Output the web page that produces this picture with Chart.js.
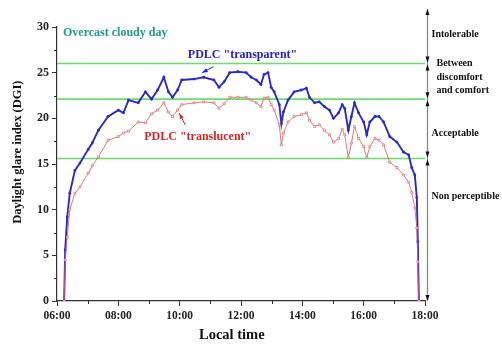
<!DOCTYPE html>
<html>
<head>
<meta charset="utf-8">
<script src="https://cdn.jsdelivr.net/npm/chart.js@4.4.1/dist/chart.umd.min.js"></script>
<style>
  html, body { margin: 0; padding: 0; background: #fff; }
  #wrap { width: 502px; height: 346px; }
</style>
</head>
<body>
<div id="wrap"><canvas id="c"></canvas></div>
<script>
// local time of each reading
var times = ['06:14','06:16','06:20','06:25','06:35','06:45','07:01','07:09','07:21','07:40',
  '08:00','08:10','08:20','08:39','08:53','09:05','09:17','09:29','09:38','09:46',
  '09:56','10:04','10:28','10:47','11:07','11:17','11:27','11:38','11:54','12:10',
  '12:20','12:30','12:39','12:45','12:53','12:59','13:05','13:15','13:19','13:23',
  '13:32','13:44','13:58','14:08','14:14','14:24','14:33','14:43','14:53','15:01',
  '15:11','15:18','15:23','15:30','15:36','15:42','15:50','16:00','16:06','16:12',
  '16:22','16:30','16:39','16:51','17:05','17:18','17:28','17:34','17:40','17:44',
  '17:46','17:48'];

// DGI, PDLC in transparent state
var transparent = [0,5.6,9.2,11.8,14.3,15.1,16.6,17.3,18.7,20.2,
  20.9,20.6,22.0,21.7,22.9,22.1,23.1,24.5,22.9,22.3,
  23.1,24.2,24.3,24.5,24.2,23.4,24.0,25.0,25.1,25.0,
  24.5,24.2,23.7,24.8,25.0,23.4,22.9,21.5,19.4,20.7,
  22.0,22.9,23.1,23.3,22.3,21.7,21.8,21.3,20.9,20.0,
  20.6,21.5,21.1,18.7,20.2,21.7,20.6,19.6,18.2,19.6,
  20.2,20.2,19.6,18.0,17.4,16.3,16.0,14.6,13.8,11.3,
  6.5,0];

// DGI, PDLC in translucent state
var translucent = [0,4.5,7.0,10.0,11.8,12.5,14.0,14.8,15.8,17.6,
  18.0,18.4,18.6,19.6,19.5,20.5,20.9,21.7,20.7,20.2,
  20.9,21.5,21.7,21.8,21.7,21.1,21.6,22.3,22.3,22.3,
  22.0,21.7,21.3,22.2,22.3,21.5,20.9,19.3,17.1,18.4,
  19.6,20.2,20.4,20.6,19.8,19.1,19.3,18.7,18.2,17.4,
  17.8,18.8,18.2,15.7,17.3,19.1,17.8,16.9,15.7,16.9,
  17.8,17.6,17.1,15.2,14.6,13.8,13.0,11.9,10.2,8.0,
  4.3,0];

// glare comfort limits (green lines)
var limits = [15.6, 22.1, 26];
var limitNames = [['Non perceptible'], ['Acceptable'], ['Between', 'discomfort', 'and comfort'], ['Intolerable']];

var xTicks = [6, 8, 10, 12, 14, 16, 18];
var yTicks = [0, 5, 10, 15, 20, 25, 30];

function toHours(t) {
  var p = t.split(':');
  return +p[0] + (+p[1]) / 60;
}

function pts(vals) {
  return vals.map(function(v, i) { return { x: toHours(times[i]), y: v }; });
}

var serif = '"Liberation Serif", "DejaVu Serif", serif';

var datasets = [];
limits.forEach(function(l) {
  datasets.push({
    data: [{ x: xTicks[0], y: l }, { x: xTicks[xTicks.length - 1], y: l }],
    borderColor: '#6ddc6d', borderWidth: 1.6, pointRadius: 0, order: 3
  });
});
datasets.push({
  label: 'PDLC "transparent"', data: pts(transparent),
  borderColor: '#2b2bc4', borderWidth: 1.9,
  pointRadius: 1.4, pointBackgroundColor: '#2b2bc4', pointBorderWidth: 0, order: 2
});
datasets.push({
  label: 'PDLC "translucent"', data: pts(translucent),
  borderColor: 'rgba(214,96,96,0.85)', borderWidth: 1,
  pointStyle: 'rect', pointRadius: 1.4, pointBackgroundColor: '#fff',
  pointBorderColor: 'rgba(214,96,96,0.85)', pointBorderWidth: 0.8, order: 1
});

// minor ticks, axis titles, text notes and the comfort scale on the right
var notes = {
  id: 'notes',
  afterDraw: function(chart) {
    var ctx = chart.ctx, a = chart.chartArea, x = chart.scales.x, y = chart.scales.y;
    ctx.save();
    ctx.strokeStyle = '#333';
    ctx.lineWidth = 1;
    ctx.beginPath();
    for (var h = xTicks[0] + 1; h < xTicks[xTicks.length - 1]; h += 2) {
      var px = Math.round(x.getPixelForValue(h)) + 0.5;
      ctx.moveTo(px, a.bottom); ctx.lineTo(px, a.bottom + 3);
    }
    for (var v = 2.5; v < 30; v += 5) {
      var py = Math.round(y.getPixelForValue(v)) + 0.5;
      ctx.moveTo(a.left, py); ctx.lineTo(a.left - 3, py);
    }
    ctx.stroke();

    // axis titles
    ctx.fillStyle = '#111';
    ctx.textAlign = 'center';
    ctx.textBaseline = 'middle';
    ctx.font = 'bold 14.5px ' + serif;
    ctx.fillText('Local time', x.getPixelForValue(11.7), 335);
    ctx.save();
    ctx.translate(18, y.getPixelForValue(16.3));
    ctx.rotate(-Math.PI / 2);
    ctx.font = 'bold 12.5px ' + serif;
    ctx.fillText('Daylight glare index (DGI)', 0, 0);
    ctx.restore();

    // title inside plot
    ctx.font = 'bold 12px ' + serif;
    ctx.fillStyle = '#1f9a88';
    ctx.textAlign = 'left';
    ctx.fillText('Overcast cloudy day', a.left + 6, a.top + 6);

    // series labels with arrows
    ctx.font = 'bold 12px ' + serif;
    ctx.textAlign = 'center';
    ctx.fillStyle = '#2323c0';
    ctx.fillText(datasets[3].label, x.getPixelForValue(12.05), y.getPixelForValue(26.9));
    arrow(ctx, x.getPixelForValue(11.1), y.getPixelForValue(25.65), x.getPixelForValue(10.73), y.getPixelForValue(25.0), '#2323c0');
    ctx.fillStyle = '#cc2a2a';
    ctx.fillText(datasets[4].label, x.getPixelForValue(10.59), y.getPixelForValue(18.0));
    arrow(ctx, x.getPixelForValue(10.18), y.getPixelForValue(19.28), x.getPixelForValue(9.99), y.getPixelForValue(20.56), '#cc2a2a');

    // comfort scale
    var rx = Math.round(a.right) + 2.5;
    var top = a.top - 18, bot = y.getPixelForValue(0);
    ctx.strokeStyle = '#8a8a8a';
    ctx.lineWidth = 1.3;
    ctx.beginPath(); ctx.moveTo(rx, top); ctx.lineTo(rx, bot); ctx.stroke();
    ctx.fillStyle = '#111';
    head(ctx, rx, top, -1);
    head(ctx, rx, bot, 1);
    limits.forEach(function(l) {
      var ly = y.getPixelForValue(l);
      head(ctx, rx, ly - 1, 1);
      head(ctx, rx, ly + 1, -1);
    });
    ctx.font = 'bold 10px ' + serif;
    ctx.textAlign = 'left';
    ctx.fillStyle = '#111';
    var at = [11.5, 18.3, 24.5, 29.2];
    limitNames.forEach(function(lines, i) {
      var cy = y.getPixelForValue(at[i]) - (lines.length - 1) * 13.5 / 2;
      var dx = lines.length > 1 ? 9 : 4;
      lines.forEach(function(t, j) {
        ctx.fillText(t, rx + dx, cy + j * 13.5);
      });
    });
    ctx.restore();
  }
};

function head(ctx, px, py, dir) {
  ctx.beginPath();
  ctx.moveTo(px, py);
  ctx.lineTo(px - 2, py - dir * 6);
  ctx.lineTo(px + 2, py - dir * 6);
  ctx.closePath();
  ctx.fill();
}

function arrow(ctx, x0, y0, x1, y1, col) {
  ctx.strokeStyle = col; ctx.fillStyle = col; ctx.lineWidth = 1;
  ctx.beginPath(); ctx.moveTo(x0, y0); ctx.lineTo(x1, y1); ctx.stroke();
  var ang = Math.atan2(y1 - y0, x1 - x0);
  ctx.beginPath();
  ctx.moveTo(x1, y1);
  ctx.lineTo(x1 - 6 * Math.cos(ang - 0.35), y1 - 6 * Math.sin(ang - 0.35));
  ctx.lineTo(x1 - 6 * Math.cos(ang + 0.35), y1 - 6 * Math.sin(ang + 0.35));
  ctx.closePath(); ctx.fill();
}

new Chart(document.getElementById('c'), {
  type: 'line',
  data: { datasets: datasets },
  options: {
    responsive: true,
    maintainAspectRatio: false,
    animation: false,
    layout: { padding: { left: 2, right: 77, top: 27, bottom: 2 } },
    plugins: { legend: { display: false }, tooltip: { enabled: false } },
    scales: {
      x: {
        type: 'linear', min: xTicks[0], max: xTicks[xTicks.length - 1],
        afterFit: function(s) { s.height = 43; },
        afterBuildTicks: function(s) { s.ticks = xTicks.map(function(v) { return { value: v }; }); },
        ticks: {
          color: '#222', font: { family: serif, size: 11.5, weight: 'bold' }, padding: 3, maxRotation: 0,
          callback: function(v) { return (v < 10 ? '0' : '') + v + ':00'; }
        },
        grid: { drawOnChartArea: false, drawTicks: true, tickLength: 5, color: '#333' },
        border: { display: true, color: '#333', width: 1.2 }
      },
      y: {
        min: yTicks[0], max: yTicks[yTicks.length - 1],
        afterFit: function(s) { s.width = 55; },
        afterBuildTicks: function(s) { s.ticks = yTicks.map(function(v) { return { value: v }; }); },
        ticks: { color: '#222', font: { family: serif, size: 12, weight: 'bold' }, padding: 3 },
        grid: { drawOnChartArea: false, drawTicks: true, tickLength: 5, color: '#333' },
        border: { display: true, color: '#333', width: 1.2 }
      }
    }
  },
  plugins: [notes]
});
</script>
</body>
</html>
